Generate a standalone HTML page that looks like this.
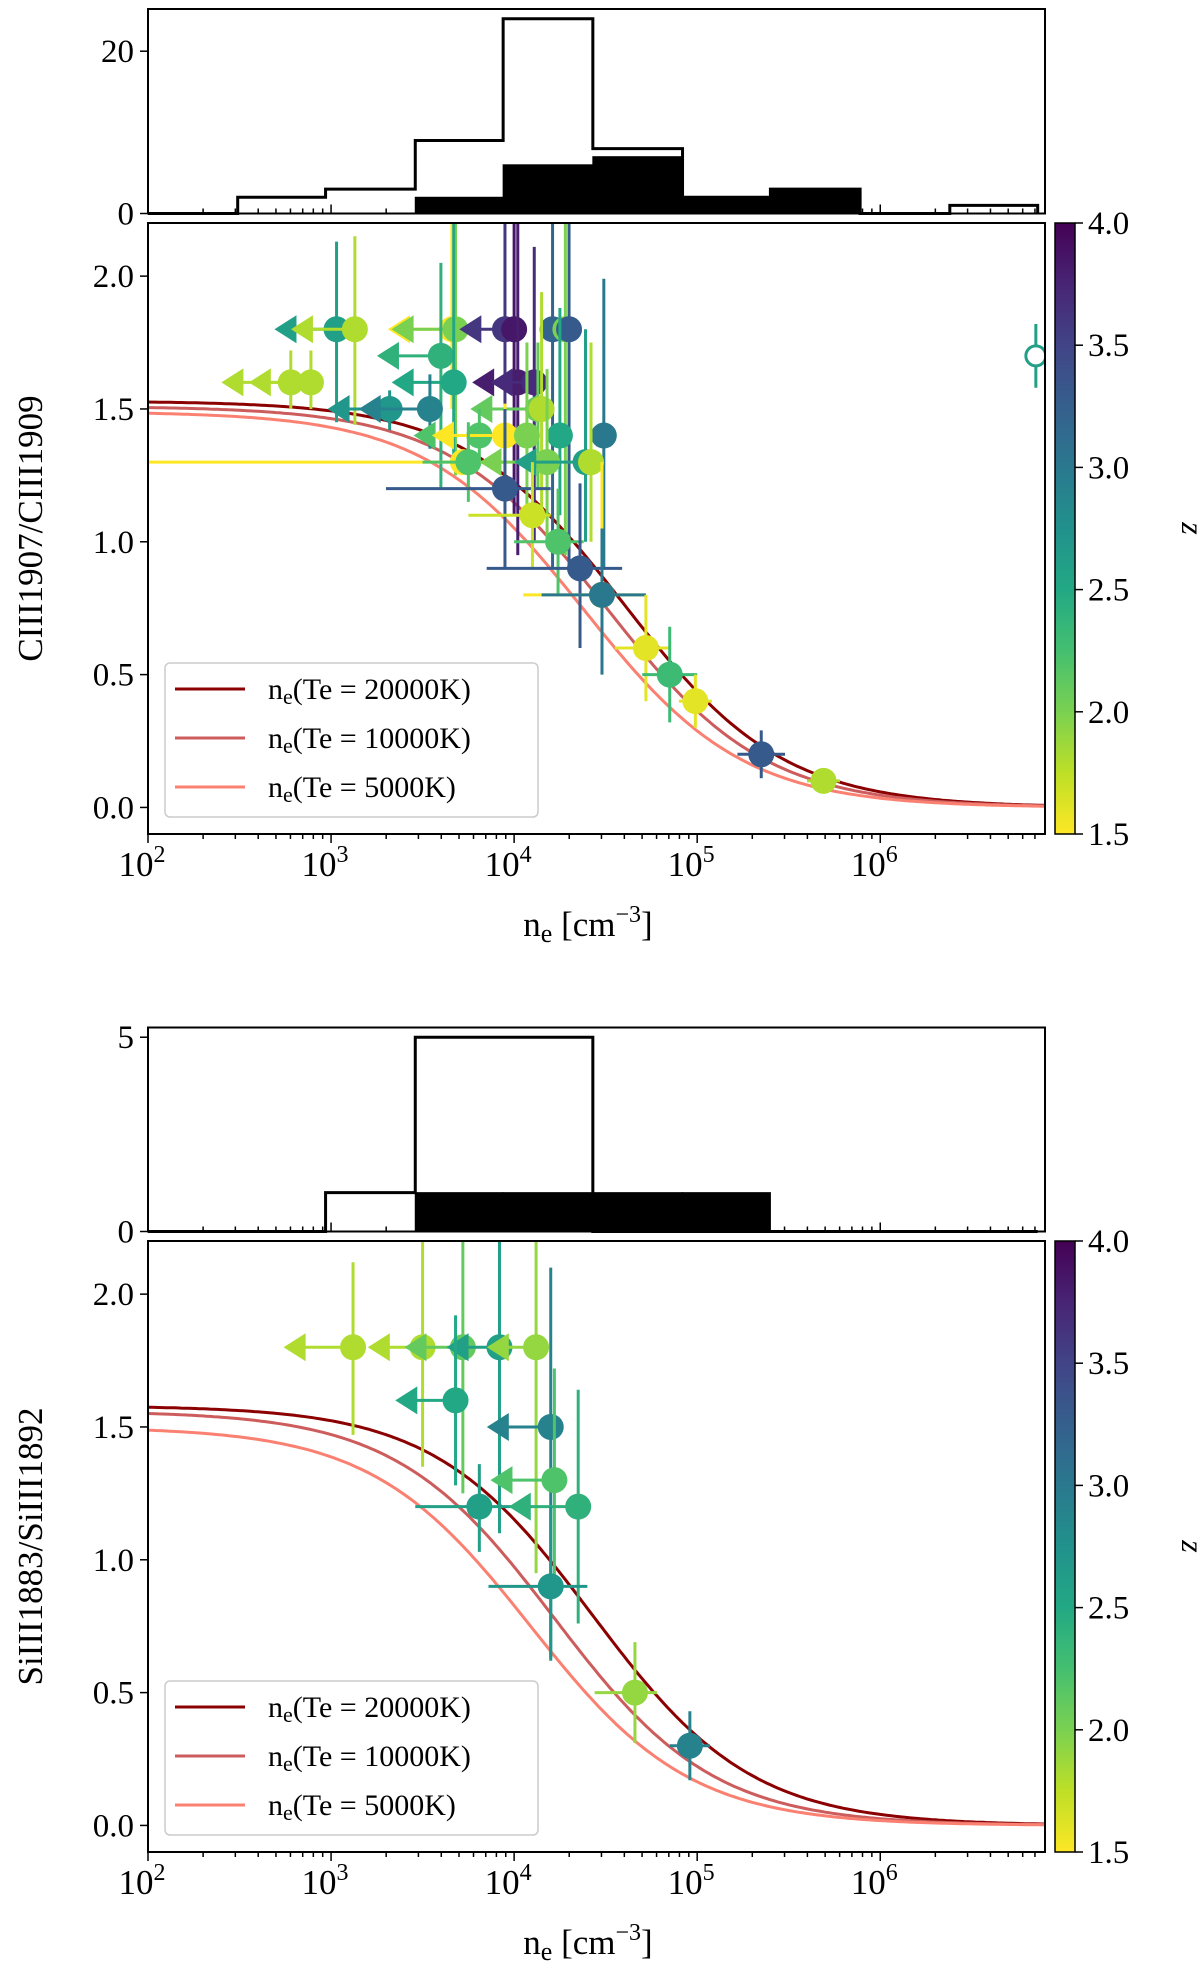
<!DOCTYPE html>
<html><head><meta charset="utf-8"><style>
html,body{margin:0;padding:0;background:#fff;}
svg{display:block;font-family:"Liberation Serif",serif;}
</style></head><body>
<svg id="fig" width="1200" height="1976" viewBox="0 0 1200 1976" xmlns="http://www.w3.org/2000/svg"></svg>
<script>
// ---------- DATA: top panel (CIII) ----------
const c3LogNe = [3.03,3.13,3.66,3.68,3.95,4.0,4.21,4.28,4.30,3.6,2.78,2.89,3.67,4.02,4.11,3.32,3.54,4.13,4.15,3.81,3.95,4.07,4.25,4.49,3.72,3.75,4.18,4.39,4.42,3.95,4.1,4.24,4.36,4.48,4.48,4.72,4.85,4.99,5.35,5.69];
const c3Ratio = [1.8,1.8,1.8,1.8,1.8,1.8,1.8,1.8,1.8,1.7,1.6,1.6,1.6,1.6,1.6,1.5,1.5,1.5,1.5,1.4,1.4,1.4,1.4,1.4,1.3,1.3,1.3,1.3,1.3,1.2,1.1,1.0,0.9,0.8,0.8,0.6,0.5,0.4,0.2,0.1];
const c3Z = [2.6,1.8,1.5,2.0,3.6,3.85,3.2,2.0,3.3,2.4,1.8,1.8,2.5,3.8,3.7,2.7,2.9,2.1,1.8,2.2,1.5,2.0,2.5,3.0,1.5,2.2,2.0,2.6,1.8,3.3,1.7,2.2,3.3,1.5,3.0,1.6,2.3,1.6,3.3,1.8];
const c3XLo = [2.74,2.83,3.36,3.38,3.75,4.0,4.21,4.28,4.30,3.3,2.45,2.6,3.38,3.82,3.92,3.03,3.2,3.81,4.15,3.5,3.6,4.07,4.25,4.49,2.0,3.5,3.86,4.05,4.42,3.3,3.75,4.0,3.85,4.05,4.15,4.55,4.7,4.9,5.22,5.6];
const c3XHi = [3.03,3.13,3.66,3.68,3.95,4.0,4.21,4.28,4.30,3.6,2.78,2.89,3.67,4.02,4.11,3.32,3.54,4.13,4.15,3.81,3.95,4.07,4.25,4.49,3.8,3.95,4.18,4.39,4.42,4.2,4.2,4.38,4.59,4.72,4.72,4.85,5.0,5.08,5.48,5.78];
const c3YLo = [1.45,1.44,1.5,1.25,1.2,1.1,0.9,0.95,0.9,1.2,1.5,1.5,1.3,0.95,1.0,1.42,1.35,1.2,1.1,1.3,1.09,1.1,1.1,0.9,1.3,1.15,1.0,1.0,1.0,0.9,0.9,0.8,0.6,0.6,0.5,0.4,0.32,0.3,0.11,0.08];
const c3YHi = [2.13,2.15,2.4,2.4,2.4,2.4,2.4,2.4,2.4,2.05,1.72,1.72,2.4,2.4,2.11,1.57,1.63,1.75,1.94,1.5,1.52,1.75,1.88,1.99,1.3,1.45,1.65,1.8,1.75,1.5,1.3,1.2,1.22,1.3,1.05,0.8,0.68,0.5,0.29,0.12];
const c3Upper = [1,1,1,1,1,0,0,0,0,1,1,1,1,1,1,1,1,1,0,1,1,0,0,0,0,0,1,1,0,0,0,0,0,0,0,0,0,0,0,0];
const c3OpenLogNe = [6.85], c3OpenRatio = [1.7], c3OpenZ = [2.6], c3OpenYLo = [1.58], c3OpenYHi = [1.82];
// histogram (top)
const c3HistEdges = [2.0,2.49,2.97,3.46,3.94,4.43,4.92,5.40,5.89,6.38,6.86];
const c3HistAll = [0,2,3,9,24,8,2,3,0,1];
const c3HistSel = [0,0,0,2,6,7,2,3,0,0];
// ---------- DATA: bottom panel (SiIII) ----------
const s3LogNe = [3.12,3.5,3.72,3.92,4.12,3.68,4.2,4.22,3.81,4.35,4.2,4.66,4.96];
const s3Ratio = [1.8,1.8,1.8,1.8,1.8,1.6,1.5,1.3,1.2,1.2,0.9,0.5,0.3];
const s3Z = [1.8,1.8,2.1,2.6,1.9,2.5,2.9,2.2,2.6,2.4,2.7,1.9,2.9];
const s3XLo = [2.79,3.25,3.45,3.68,3.9,3.4,3.9,3.92,3.46,4.02,3.86,4.44,4.85];
const s3XHi = [3.12,3.5,3.72,3.92,4.12,3.68,4.2,4.22,4.1,4.35,4.4,4.78,5.07];
const s3YLo = [1.47,1.35,1.25,1.1,0.95,1.28,0.63,0.9,1.03,0.76,0.62,0.31,0.17];
const s3YHi = [2.12,2.4,2.4,2.4,2.4,1.92,2.1,1.72,1.36,1.64,1.2,0.69,0.43];
const s3Upper = [1,1,1,1,1,1,1,1,0,1,0,0,0];
const s3HistEdges = [2.0,2.49,2.97,3.46,3.94,4.43,4.92,5.40,5.89,6.38,6.86];
const s3HistAll = [0,0,1,5,5,0,0,0,0,0];
const s3HistSel = [0,0,0,1,1,1,1,0,0,0];
// model curves: R0 and log critical density per temperature
const curveLabels = ["ne(Te = 20000K)","ne(Te = 10000K)","ne(Te = 5000K)"];
const curveColors = ["#8b0000","#cd5c5c","#fa8072"];
const c3CurveR0 = [1.53,1.51,1.49];
const c3CurveLogNc = [4.6,4.5,4.38];
const s3CurveR0 = [1.58,1.56,1.50];
const s3CurveLogNc = [4.43,4.22,4.09];
const cbTicks = [1.5,2.0,2.5,3.0,3.5,4.0];

const NS="http://www.w3.org/2000/svg";
const svg=document.getElementById('fig');
function mk(tag,attrs,parent){const e=document.createElementNS(NS,tag);for(const k in attrs)e.setAttribute(k,attrs[k]);(parent||svg).appendChild(e);return e;}
const VIR=["#440154","#482475","#414487","#355f8d","#2a788e","#21918c","#22a884","#44bf70","#7ad151","#bddf26","#fde725"];
function hex(h){return [1,3,5].map(i=>parseInt(h.substr(i,2),16));}
function viridis(t){t=Math.max(0,Math.min(1,t));const f=t*10,i=Math.min(9,Math.floor(f)),u=f-i;const a=hex(VIR[i]),b=hex(VIR[i+1]);return "rgb("+a.map((v,k)=>Math.round(v+(b[k]-v)*u)).join(",")+")";}
function zc(z){return viridis(1-(z-1.5)/2.5);}

const L=148,R=1045,X0=2.0,X1=6.9;
function xs(lg){return L+(lg-X0)/(X1-X0)*(R-L);}

function panel(P){
  const ys=v=>P.mB+(v-(-0.1))/(2.2-(-0.1))*(P.mT-P.mB);
  const hs=c=>P.hB+(c/P.hMax)*(P.hT-P.hB);
  // ---- histogram ----
  const hg=mk('g',{});
  
  
  P.hSel.forEach((c,i)=>{ if(c>0){const r=mk('rect',{x:xs(P.edges[i]),y:hs(c),width:xs(P.edges[i+1])-xs(P.edges[i]),height:P.hB-hs(c),fill:'#000',stroke:'#000','stroke-width':1},hg);
    
    }});
  let d='M'+xs(P.edges[0])+' '+P.hB;
  P.hAll.forEach((c,i)=>{d+=' L'+xs(P.edges[i])+' '+hs(c)+' L'+xs(P.edges[i+1])+' '+hs(c);});
  d+=' L'+xs(P.edges[P.edges.length-1])+' '+P.hB;
  const st=mk('path',{d:d,fill:'none',stroke:'#000','stroke-width':3,'stroke-linejoin':'miter'},hg);
  
  
  mk('rect',{x:L,y:P.hT,width:R-L,height:P.hB-P.hT,fill:'none',stroke:'#000','stroke-width':2},hg);
  P.hTicks.forEach(t=>{const y=hs(t);mk('line',{x1:L-8,x2:L,y1:y,y2:y,stroke:'#000','stroke-width':1.5},hg);
    const tx=mk('text',{x:L-14,y:y+11,'font-size':33,'text-anchor':'end'},hg);tx.textContent=t;
    
    });
  logTicks(P.hB,hg,false,true);
  // ---- main axes ----
  const clipId='clip'+P.id;
  const cp=mk('clipPath',{id:clipId});mk('rect',{x:L,y:P.mT,width:R-L,height:P.mB-P.mT},cp);
  const g=mk('g',{'clip-path':'url(#'+clipId+')'});
  
  
  // curves
  P.cR0.forEach((r0,k)=>{let pd='';for(let lg=X0;lg<=X1+0.001;lg+=0.02){const v=r0/(1+Math.pow(10,lg-P.cNc[k]));pd+=(pd?' L':'M')+xs(lg).toFixed(1)+' '+ys(v).toFixed(1);}
    const c=mk('path',{d:pd,fill:'none',stroke:curveColors[k],'stroke-width':3},g);
    
    });
  // points
  P.ln.forEach((lg,i)=>{const col=zc(P.z[i]);const pg=mk('g',{},g);
    
    
    const x=xs(lg),y=ys(P.r[i]);
    mk('line',{x1:x,x2:x,y1:ys(P.yLo[i]),y2:ys(P.yHi[i]),stroke:col,'stroke-width':3},pg);
    mk('line',{x1:xs(P.xLo[i]),x2:xs(P.xHi[i]),y1:y,y2:y,stroke:col,'stroke-width':3},pg);
    if(P.up[i]){const ax=xs(P.xLo[i]);mk('polygon',{points:(ax-9)+','+y+' '+(ax+13)+','+(y-14)+' '+(ax+13)+','+(y+14),fill:col},pg);}
    mk('circle',{cx:x,cy:y,r:13,fill:col},pg);});
  if(P.open){P.open.ln.forEach((lg,i)=>{const col=zc(P.open.z[i]);const pg=mk('g',{},g);
    
    
    const x=xs(lg);mk('line',{x1:x,x2:x,y1:ys(P.open.yLo[i]),y2:ys(P.open.yHi[i]),stroke:col,'stroke-width':3},pg);
    mk('circle',{cx:x,cy:ys(P.open.r[i]),r:10,fill:'#fff',stroke:col,'stroke-width':3},pg);});}
  mk('rect',{x:L,y:P.mT,width:R-L,height:P.mB-P.mT,fill:'none',stroke:'#000','stroke-width':2});
  // y ticks
  [0,0.5,1.0,1.5,2.0].forEach(v=>{const y=ys(v);mk('line',{x1:L-8,x2:L,y1:y,y2:y,stroke:'#000','stroke-width':1.5});
    const t=mk('text',{x:L-14,y:y+11,'font-size':33,'text-anchor':'end'});t.textContent=v.toFixed(1);
    
    });
  logTicks(P.mB,svg,true,false);
  // x labels
  [2,3,4,5,6].forEach(e=>{const t=mk('text',{x:xs(e)-6,y:P.mB+42,'font-size':35,'text-anchor':'middle'});
    
    
    t.appendChild(document.createTextNode('10'));const s=mk('tspan',{dy:-14,'font-size':24},t);s.textContent=e;});
  const xl=mk('text',{x:588,y:P.mB+102,'font-size':35,'text-anchor':'middle'});
  
  
  xl.appendChild(document.createTextNode('n'));const sb=mk('tspan',{dy:6,'font-size':26},xl);sb.textContent='e';
  const rest=mk('tspan',{dy:-6},xl);rest.textContent=' [cm';const sp=mk('tspan',{dy:-14,'font-size':24},xl);sp.textContent='−3';const cl=mk('tspan',{dy:14},xl);cl.textContent=']';
  const yl=mk('text',{x:0,y:0,'font-size':35,'text-anchor':'middle',transform:'translate(42,'+((P.mT+P.mB)/2)+') rotate(-90)'});
  
  
  yl.textContent=P.ylabel;
  // legend
  const lg=mk('g',{});
  
  
  mk('rect',{x:165,y:P.legY,width:373,height:154,rx:5,fill:'rgba(255,255,255,0.85)',stroke:'#ccc','stroke-width':1.5},lg);
  curveLabels.forEach((lab,k)=>{const y=P.legY+26+k*49;
    const en=mk('g',{},lg);
    
    
    mk('line',{x1:175,x2:245,y1:y,y2:y,stroke:curveColors[k],'stroke-width':3},en);
    const t=mk('text',{x:268,y:y+10,'font-size':30},en);t.appendChild(document.createTextNode('n'));
    const s=mk('tspan',{dy:5,'font-size':22},t);s.textContent='e';const r=mk('tspan',{dy:-5},t);r.textContent=lab.slice(2);});
  // colorbar
  const cb=mk('g',{});
  
  
  const gid='grad'+P.id;const gr=mk('linearGradient',{id:gid,x1:0,y1:1,x2:0,y2:0},cb);
  for(let i=0;i<=20;i++){mk('stop',{offset:(i/20),'stop-color':viridis(1-i/20)},gr);}
  mk('rect',{x:1055,y:P.mT,width:20,height:P.mB-P.mT,fill:'url(#'+gid+')',stroke:'#000','stroke-width':1.5},cb);
  cbTicks.forEach(v=>{const y=P.mB+(v-1.5)/2.5*(P.mT-P.mB);mk('line',{x1:1075,x2:1083,y1:y,y2:y,stroke:'#000','stroke-width':1.5},cb);
    const t=mk('text',{x:1088,y:y+11,'font-size':33},cb);t.textContent=v.toFixed(1);});
  const zl=mk('text',{x:0,y:0,'font-size':32,'font-style':'italic',transform:'translate(1182,'+((P.mT+P.mB)/2)+') rotate(90)','text-anchor':'middle'},cb);zl.textContent='z';
}
function logTicks(y,par,out,both){
  for(let e=2;e<=6;e++){for(let m=1;m<=9;m++){const lg=e+Math.log10(m);if(lg>X1)continue;const x=xs(lg);const len=m===1?9:5;
    if(out)mk('line',{x1:x,x2:x,y1:y,y2:y+len,stroke:'#000','stroke-width':1.5},par);
    if(both)mk('line',{x1:x,x2:x,y1:y,y2:y-len,stroke:'#000','stroke-width':1.5},par);}}
}
panel({id:'ciii',hT:9,hB:213.5,hMax:25.2,hTicks:[0,20],edges:c3HistEdges,hAll:c3HistAll,hSel:c3HistSel,
  mT:223,mB:834,ln:c3LogNe,r:c3Ratio,z:c3Z,xLo:c3XLo,xHi:c3XHi,yLo:c3YLo,yHi:c3YHi,up:c3Upper,
  open:{ln:c3OpenLogNe,r:c3OpenRatio,z:c3OpenZ,yLo:c3OpenYLo,yHi:c3OpenYHi},
  cR0:c3CurveR0,cNc:c3CurveLogNc,ylabel:'CIII1907/CIII1909',legY:663});
panel({id:'siiii',hT:1027.5,hB:1231.5,hMax:5.25,hTicks:[0,5],edges:s3HistEdges,hAll:s3HistAll,hSel:s3HistSel,
  mT:1241,mB:1852,ln:s3LogNe,r:s3Ratio,z:s3Z,xLo:s3XLo,xHi:s3XHi,yLo:s3YLo,yHi:s3YHi,up:s3Upper,
  cR0:s3CurveR0,cNc:s3CurveLogNc,ylabel:'SiIII1883/SiIII1892',legY:1681});
</script>
</body></html>
